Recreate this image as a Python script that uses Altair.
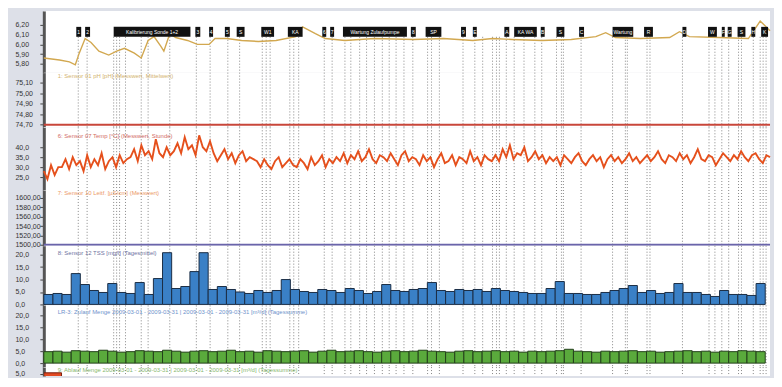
import altair as alt
import pandas as pd

T_MAX = 738
W = 730
FONT = "Liberation Sans"

# ---- Panel 1: gold line (pH) ----
gold_t = [0, 16, 26, 32, 36, 42, 48, 56, 66, 74, 82, 92, 99, 106, 112, 119, 122, 128, 134, 146,
          156, 168, 174, 186, 201, 218, 236, 256, 263, 276, 286, 306, 336, 376, 406, 436, 456, 476,
          506, 536, 561, 571, 581, 606, 636, 646, 656, 686, 716, 728, 738]
gold_v = [5.86, 5.84, 5.82, 5.79, 5.91, 6.06, 6.02, 5.93, 5.89, 5.93, 5.96, 5.91, 5.86, 6.04, 6.08,
          5.98, 5.93, 6.11, 6.07, 6.04, 6.00, 6.00, 6.06, 6.06, 6.04, 6.03, 6.04, 6.08, 6.18, 6.11,
          6.06, 6.04, 6.06, 6.05, 6.06, 6.04, 6.06, 6.05, 6.04, 6.05, 6.08, 6.12, 6.07, 6.06, 6.07,
          6.13, 6.08, 6.07, 6.06, 6.24, 6.14]

# ---- event markers ----
event_t = [35, 44, 71, 74, 77, 83, 99, 106, 128, 155, 169, 187, 199, 222, 226, 230, 250, 254, 259,
           285, 293, 306, 312, 321, 328, 336, 344, 351, 358, 366, 375, 390, 394, 402, 426, 438, 446,
           456, 460, 463, 470, 478, 488, 499, 506, 521, 526, 528, 546, 578, 591, 593, 613, 616, 649,
           676, 682, 689, 696, 706, 709, 721, 728, 731, 734]
box_start = [33, 42, 71, 154, 168, 184, 196, 221, 248, 283, 291, 304, 373, 388, 424, 436, 468, 478,
             505, 521, 544, 578, 610, 649, 675, 689, 695, 705, 719, 729]
box_end = [38, 47, 149, 159, 172, 189, 204, 234, 263, 287, 295, 369, 378, 404, 429, 440, 473, 501,
           509, 529, 549, 599, 619, 653, 684, 692, 699, 713, 723, 736]
box_label = ["1", "2", "Kalibrierung Sonde 1+2", "3", "4", "5", "S", "W1", "KA", "6",
             "7", "Wartung Zulaufpumpe", "8", "SP", "9", "E", "A", "KA WA", "B",
             "S", "C", "Wartung", "R", "D", "W", "F", "G", "S", "H", "K"]

# ---- Panel 2: constant red line ----
red_const_t = [0, 738]
red_const_v = [74.70, 74.70]

# ---- Panel 3: red noisy temperature ----
red_v = [28, 24, 31, 26, 30,
         30, 34, 29, 35, 31, 33, 28, 36, 30, 34, 31, 37, 29, 33, 35, 30, 36, 32, 34,
         35, 39, 33, 41, 36, 38, 34, 44, 37, 35, 40, 36,
         38, 42, 37, 45, 39, 41, 36, 46, 40, 38, 43,
         37, 33, 36, 39, 34, 37, 32, 36, 38, 33, 35, 34,
         33, 30, 34, 31, 29, 33, 35, 30, 32, 34, 31,
         30, 34, 32, 29, 35, 31, 33, 36, 30, 34, 32,
         35, 33, 37, 32, 36, 34, 38, 33, 35, 39, 34, 32, 36, 35, 33, 37, 34, 31, 36, 38, 33, 35,
         34, 31, 36, 33, 35, 30, 34, 37, 32, 33, 36, 31, 35, 34, 32, 38, 33, 35, 31, 36, 34, 33,
         36, 33, 39, 35, 41, 34, 37, 36, 40, 33, 35, 38, 34, 36, 32, 35,
         33, 35, 31, 36, 34, 32, 35, 37, 33, 31, 34, 36, 33, 35, 30, 34, 36, 33, 35, 32, 34, 37,
         33, 35, 32,
         34, 36, 33, 35, 38, 34, 32, 36, 35, 33, 37, 34, 36, 32, 35, 39, 34, 33, 36, 35, 31, 34,
         37, 35, 33, 36, 34, 38, 35, 33, 36, 37, 34, 32, 36, 35]

# ---- Panel 4: purple constant ----
purple_t = [0, 738]
purple_v = [1500, 1500]

# ---- Panel 5: blue bars ----
blue_v = [4, 4.4, 4, 12.4, 8, 5.6, 4.8, 8.4, 4.8, 4.4,
          8.8, 4, 10.4, 20.8, 6.4, 7.2, 13.2, 20.8, 6, 7.2,
          6, 5, 4.4, 5.6, 4.8, 5.6, 10, 6, 5.2, 4.8,
          6, 5.6, 4.8, 6.4, 5.6, 4.4, 5.2, 8, 5.6, 5.2,
          6, 6.4, 8.8, 5.6, 5.2, 6, 5.6, 6, 5.2, 6.4,
          5.6, 5.2, 4.8, 4.4, 4.4, 6.4, 9.2, 4.4, 4.4, 4,
          4, 4.8, 5.6, 6.4, 7.6, 4.8, 5.6, 4.4, 4.8, 8.4,
          4.8, 4.8, 4, 3.2, 5.6, 4, 4, 3.6, 8.4]

# ---- Panel 6: green bars ----
green_v = [4.8, 5.0, 4.6, 5.2, 5.0, 4.8, 5.4, 5.0, 4.6, 4.8,
           5.2, 5.0, 4.8, 5.4, 5.0, 4.6, 5.0, 5.2, 4.8, 5.0,
           5.4, 4.8, 5.0, 4.6, 5.2, 5.0, 4.8, 5.0, 5.2, 4.6,
           5.0, 5.4, 4.8, 5.0, 5.2, 4.8, 4.6, 5.0, 5.2, 4.8,
           5.0, 5.4, 5.0, 4.8, 4.6, 5.0, 5.2, 4.8, 5.0, 5.2,
           4.8, 5.0, 4.6, 5.0, 4.8, 5.0, 5.2, 5.8, 5.0, 4.8,
           4.6, 5.0, 4.8, 5.0, 5.2, 4.8, 5.0, 4.6, 4.8, 5.0,
           5.2, 4.8, 5.0, 4.6, 5.0, 4.8, 5.2, 5.0, 4.8]
BIN = 9.28

# ---- Panel 7: red bar ----
bottom_t0 = [0]
bottom_t1 = [18]
bottom_v = [5.4]

series_labels = [
    "1: Sensor 01 pH [pH] (Messwert, Mittelwert)",
    "6: Sensor 07 Temp [°C] (Messwert, Stunde)",
    "7: Sensor 10 Leitf. [µS/cm] (Messwert)",
    "8: Sensor 12 TSS [mg/l] (Tagesmittel)",
    "LR-3: Zulauf Menge 2009-03-01 - 2009-03-31 | 2009-03-01 - 2009-03-31 [m³/d] (Tagessumme)",
    "9: Ablauf Menge 2009-03-01 - 2009-03-31 | 2009-03-01 - 2009-03-31 [m³/d] (Tagessumme)",
]

XS = alt.Scale(domain=[0, T_MAX], nice=False, zero=False)
X = alt.X("t:Q", scale=XS, axis=None)


def yax(values, fmt):
    return alt.Axis(values=values, title=None, grid=False,
                    labelExpr=f"replace(format(datum.value, '{fmt}'), '.', ',')",
                    tickSize=4, tickColor="#444", labelAlign="left", labelPadding=25,
                    labelFontSize=7, labelColor="#333", labelFont=FONT, labelOverlap=False,
                    labelBaseline="middle", domainColor="#555", domainWidth=3)


def Y(domain, values, fmt, field="v"):
    return alt.Y(f"{field}:Q", scale=alt.Scale(domain=domain, nice=False, zero=False),
                 axis=yax(values, fmt))


events_df = pd.DataFrame({"t": event_t})


def rules(h, top=None):
    ch = alt.Chart(events_df).mark_rule(color="#858585", strokeDash=[1, 2], strokeWidth=1)
    if top is None:
        return ch.encode(x=X)
    return ch.encode(x=X, y=alt.value(top), y2=alt.value(h))


def label(text, color, py):
    return alt.Chart(pd.DataFrame({"label": [text]})).mark_text(
        align="left", baseline="middle", fontSize=6, font=FONT, color=color, opacity=0.8
    ).encode(x=alt.value(14), y=alt.value(py), text="label:N")


# Panel 1
H1 = 62
gold_df = pd.DataFrame({"t": gold_t, "v": gold_v})
box_df = pd.DataFrame({"t": box_start, "t2": box_end, "label": box_label})
box_df["mid"] = (box_df["t"] + box_df["t2"]) / 2
p1 = alt.layer(
    rules(H1, top=26),
    alt.Chart(gold_df).mark_line(color="#d2a850", strokeWidth=1.4).encode(
        x=X, y=Y([5.71, 6.343], [5.8, 5.9, 6.0, 6.1, 6.2], ".2f")),
    alt.Chart(box_df).mark_rect(color="#111").encode(
        x=X, x2="t2:Q", y=alt.value(16), y2=alt.value(26)),
    alt.Chart(box_df).mark_text(color="white", fontSize=5, font=FONT, baseline="middle").encode(
        x=alt.X("mid:Q", scale=XS, axis=None), y=alt.value(21), text="label:N"),
).properties(width=W, height=H1)

# Panel 2
H2 = 55
p2 = alt.layer(
    rules(H2),
    alt.Chart(pd.DataFrame({"t": red_const_t, "v": red_const_v})).mark_line(
        color="#c8463a", strokeWidth=2).encode(
        x=X, y=Y([74.675, 75.194], [74.7, 74.8, 74.9, 75.0, 75.1], ".2f")),
    label(series_labels[0], "#c9a24a", 3),
).properties(width=W, height=H2)

# Panel 3
H3 = 63
n = len(red_v)
red_df = pd.DataFrame({"t": [i * T_MAX / (n - 1) for i in range(n)], "v": red_v})
p3 = alt.layer(
    rules(H3),
    alt.Chart(red_df).mark_line(color="#e5501c", strokeWidth=1.9).encode(
        x=X, y=Y([18.5, 50], [25, 30, 35, 40], ".1f")),
    label(series_labels[1], "#c8463a", 9),
).properties(width=W, height=H3)

# Panel 4
H4 = 56
p4 = alt.layer(
    rules(H4),
    alt.Chart(pd.DataFrame({"t": purple_t, "v": purple_v})).mark_line(
        color="#6a64aa", strokeWidth=2).encode(
        x=X, y=Y([1497.9, 1617], [1500, 1520, 1540, 1560, 1580, 1600], ".2f")),
    label(series_labels[2], "#e8803a", 3),
).properties(width=W, height=H4)

# Panel 5
H5 = 60
blue_df = pd.DataFrame({"t": [i * BIN for i in range(len(blue_v))],
                        "t2": [(i + 1) * BIN for i in range(len(blue_v))],
                        "v": blue_v, "b": [0] * len(blue_v)})
p5 = alt.layer(
    rules(H5),
    alt.Chart(blue_df).mark_bar(color="#3a80c6", stroke="#1b2d45", strokeWidth=1).encode(
        x=X, x2="t2:Q", y=Y([-0.4, 23.6], [0, 5, 10, 15, 20], ".1f"), y2="b:Q"),
    label(series_labels[3], "#4a4f8a", 7),
).properties(width=W, height=H5)

# Panel 6
H6 = 62
green_df = pd.DataFrame({"t": [i * BIN for i in range(len(green_v))],
                         "t2": [(i + 1) * BIN for i in range(len(green_v))],
                         "v": green_v, "b": [0] * len(green_v)})
p6 = alt.layer(
    rules(H6),
    alt.Chart(green_df).mark_bar(color="#5aaa3c", stroke="#23401a", strokeWidth=1).encode(
        x=X, x2="t2:Q", y=Y([-1.67, 24.2], [0, 5, 10, 15, 20], ".1f"), y2="b:Q"),
    label(series_labels[4], "#4a78c0", 7),
).properties(width=W, height=H6)

# Panel 7
H7 = 9
bot_df = pd.DataFrame({"t": bottom_t0, "t2": bottom_t1, "v": bottom_v, "b": [0]})
p7 = alt.layer(
    rules(H7),
    alt.Chart(bot_df).mark_bar(color="#e24a22", stroke="#7a2010", strokeWidth=1, clip=True).encode(
        x=X, x2="t2:Q", y=Y([3.75, 8.3], [5], ".1f"), y2="b:Q"),
    label(series_labels[5], "#6aa84a", 3),
).properties(width=W, height=H7)

chart = alt.vconcat(p1, p2, p3, p4, p5, p6, p7, spacing=0, bounds="flush").resolve_scale(
    x="shared", y="independent"
).properties(
    padding={"left": 7, "top": 2, "right": 0, "bottom": 0},
    background="#dde0e8",
).configure_view(stroke=None, fill="white")

chart.save("out.html", embed_options={"renderer": "svg", "actions": False})
